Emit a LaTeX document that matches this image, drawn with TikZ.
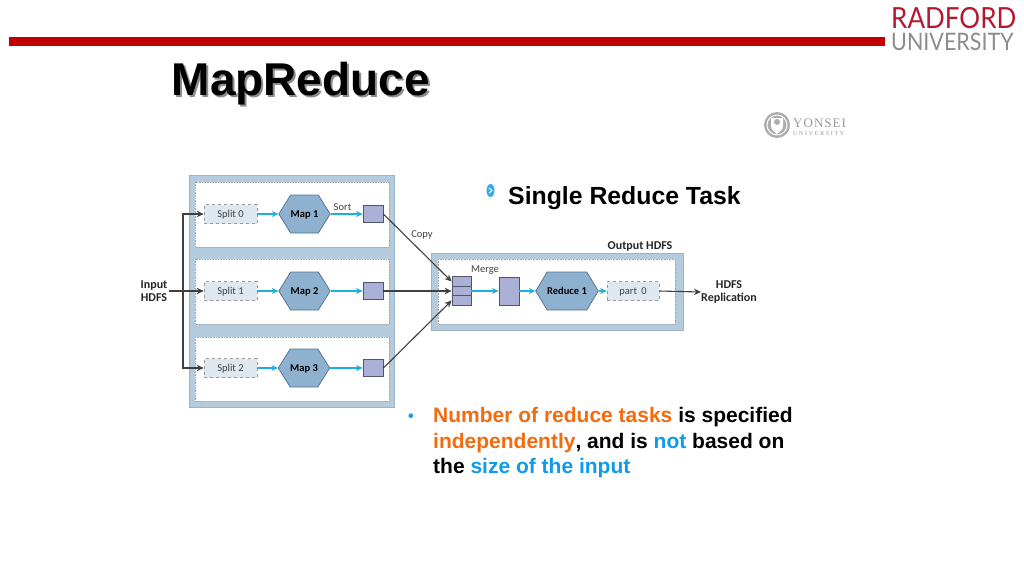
\documentclass[tikz,border=0pt]{standalone}
\usepackage{fontspec}
\setmainfont{Liberation Sans}
\newfontfamily\diag{Carlito}
\newfontfamily\logo{Lato}
\newfontfamily\yons[LetterSpace=8]{Liberation Serif}
\newfontfamily\yonsw[LetterSpace=28]{Liberation Serif}
\usetikzlibrary{shapes.symbols,arrows.meta}
\definecolor{panelblue}{HTML}{B4CADD}
\definecolor{paneledge}{HTML}{9DB3C6}
\definecolor{hexfill}{HTML}{8FB1D0}
\definecolor{hexedge}{HTML}{4F6F8C}
\definecolor{sq}{HTML}{ABB0D6}
\definecolor{sqedge}{HTML}{50556B}
\definecolor{splitfill}{HTML}{DFE8EF}
\definecolor{flow}{HTML}{1CAFE3}
\definecolor{dark}{HTML}{404040}
\definecolor{rbar}{HTML}{C00000}
\definecolor{rlogo}{HTML}{B5182E}
\definecolor{glogo}{HTML}{8A8C8E}
\definecolor{oran}{HTML}{F26B0F}
\definecolor{sky}{HTML}{0F9BEA}
\tikzset{
 x=1pt,y=-1pt,
 outerbox/.style={fill=panelblue,draw=paneledge,line width=.8pt},
 innerbox/.style={fill=white,draw=gray!70,densely dotted,line width=.6pt},
 splitbox/.style={draw=gray!80,dashed,line width=.7pt,fill=splitfill,text=black!75,font=\diag\fontsize{10.5}{12}\selectfont,minimum width=53pt,minimum height=19pt,inner sep=0pt,text height=7pt,text depth=0pt},
 hexa/.style={shape=signal,signal to=east and west,signal pointer angle=116,draw=hexedge,line width=.7pt,fill=hexfill,font=\diag\bfseries\fontsize{10.5}{12}\selectfont,minimum width=51pt,minimum height=38pt,inner sep=0pt,text height=7pt,text depth=0pt},
 sqbox/.style={draw=sqedge,line width=.8pt,fill=sq,inner sep=0pt},
 blue arrow/.style={draw=flow,line width=1.2pt,-{Stealth[length=6.5pt,width=6pt]}},
 dark arrow/.style={draw=dark,line width=1.1pt,-{Stealth[length=7pt,width=6.5pt]}},
 small/.style={font=\diag\fontsize{10.5}{12}\selectfont,text=black!75,inner sep=0pt},
 bold small/.style={font=\diag\bfseries\fontsize{12}{13.5}\selectfont,text=black!85,inner sep=0pt,align=center},
 bodyline/.style={anchor=base west,inner sep=0pt,font=\bfseries\fontsize{21}{25}\selectfont},
}
\begin{document}
\begin{tikzpicture}
\useasboundingbox (0,0) rectangle (1024,576);
% header
\fill[rbar] (9,37) rectangle (885,46);
\node[anchor=base west,inner sep=0pt,text=black!45,font=\bfseries\fontsize{46}{52}\selectfont] (titleshadow) at (173.5,97.5) {MapReduce};
\node[anchor=base west,inner sep=0pt,font=\bfseries\fontsize{46}{52}\selectfont] (title) at (171.5,95.5) {MapReduce};
\node[anchor=base west,inner sep=0pt,text=rlogo,font=\logo\fontsize{26}{28}\selectfont] (radford) at (891,28.5) {\scalebox{1}[1.12]{RADFORD}};
\node[anchor=base west,inner sep=0pt,text=glogo,font=\logo\fontsize{21.5}{24}\selectfont] (radu) at (891,50.5) {\scalebox{1}[1.12]{UNIVERSITY}};
% yonsei
\fill[gray!65] (777,125) circle (13);
\draw[white,line width=1pt] (777,125) circle (10);
\fill[white] (771,118) -- (783,118) -- (783,126) .. controls (783,130) and (779,132) .. (777,134) .. controls (775,132) and (771,130) .. (771,126) -- cycle;
\fill[gray!65] (777,122) circle (3);
\node[anchor=base west,inner sep=0pt,text=gray!80,font=\yons\fontsize{13}{14}\selectfont] (yonsei) at (793,127.5) {YONSEI};
\node[anchor=base west,inner sep=0pt,text=gray!80,font=\yonsw\fontsize{6}{7}\selectfont] (yonu) at (793,135) {UNIVERSITY};
% map side boxes
\draw[outerbox] (189.5,175.5) rectangle (394,407);
\draw[innerbox] (195,182) rectangle (389,247);
\draw[innerbox] (195,259) rectangle (389,324);
\draw[innerbox] (195,337) rectangle (389,401);
\node[splitbox] (s0) at (230.5,214) {Split 0};
\node[splitbox] (s1) at (230.5,291) {Split 1};
\node[splitbox] (s2) at (230.5,368) {Split 2};
\node[hexa] (m0) at (304.5,214) {Map 1};
\node[hexa] (m1) at (304.5,291) {Map 2};
\node[hexa] (m2) at (304,368) {Map 3};
\node[sqbox,minimum width=20pt,minimum height=17pt] (q0) at (373,214) {};
\node[sqbox,minimum width=20pt,minimum height=17pt] (q1) at (373,291) {};
\node[sqbox,minimum width=20pt,minimum height=17pt] (q2) at (373,368) {};
\node[small] (sort) at (342.5,207.5) {Sort};
\node[bold small,outer sep=1.5pt] (input) at (154,291) {Input\\HDFS};
\coordinate (trunk) at (183,291);
% reduce side boxes
\draw[outerbox] (431,253) rectangle (683,330);
\draw[innerbox] (438,259) rectangle (675,324);
\node[sqbox,minimum width=19pt,minimum height=9.5pt] (a0) at (461.5,281.5) {};
\node[sqbox,minimum width=19pt,minimum height=9.5pt] (a1) at (461.5,291) {};
\node[sqbox,minimum width=19pt,minimum height=9.5pt] (a2) at (461.5,300.5) {};
\node[sqbox,minimum width=20pt,minimum height=28pt] (mg) at (509,291) {};
\node[hexa,minimum width=56pt,signal pointer angle=118] (r) at (567,291) {Reduce 1};
\node[splitbox,minimum width=52pt] (p) at (633,291) {part\, 0};
\node[small] (copy) at (422,235) {Copy};
\node[small] (merge) at (485,270) {Merge};
\node[bold small] (outh) at (640,247) {Output HDFS};
\node[bold small] (repl) at (729,292) {HDFS\\Replication};
% connectors
\draw[dark arrow] (input.east) -- (s1.west);
\draw[dark arrow] (trunk) |- (s0.west);
\draw[dark arrow] (trunk) |- (s2.west);
\foreach \i in {0,1,2}{
 \draw[blue arrow] (s\i.east) -- (m\i.west);
 \draw[blue arrow] (m\i.east) -- (q\i.west);
}
\draw[dark arrow] (q0.east) -- (a0.west);
\draw[dark arrow] (q1.east) -- (a1.west);
\draw[dark arrow] (q2.east) -- (a2.west);
\draw[blue arrow] (a1.east) -- (mg.west);
\draw[blue arrow] (mg.east) -- (r.west);
\draw[blue arrow] (r.east) -- (p.west);
\draw[dark arrow] (p.east) -- (repl.west);
% text
\fill[sky!85] (490.5,190.5) ellipse (4 and 6.5);
\draw[white,line width=1pt] (489,188) -- (492,190.5) -- (489,193);
\node[anchor=base west,inner sep=0pt,font=\bfseries\fontsize{24.8}{30}\selectfont] (srt) at (508,204) {Single Reduce Task};
\node[anchor=base west,inner sep=0pt,text=sky,font=\bfseries\fontsize{16}{20}\selectfont] (dot) at (408,421) {•};
\node[bodyline] (l1) at (433,422) {\textcolor{oran}{Number of reduce tasks} is specified};
\node[bodyline] (l2) at (433,448) {\textcolor{oran}{independently}, and is \textcolor{sky}{not} based on};
\node[bodyline] (l3) at (433,473) {the \textcolor{sky}{size of the input}};
\end{tikzpicture}
\end{document}
